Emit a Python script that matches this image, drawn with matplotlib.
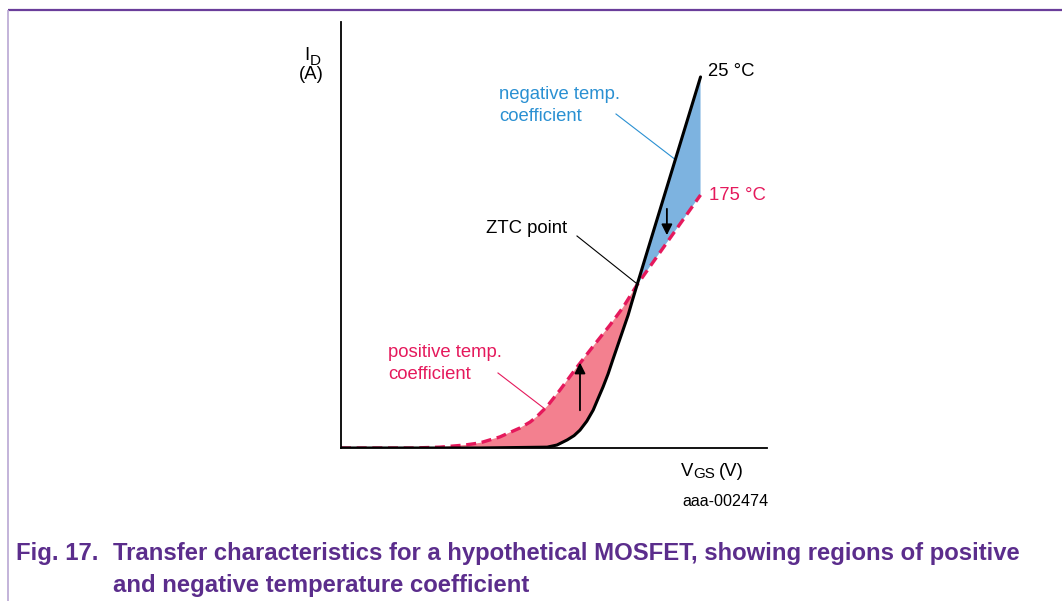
import matplotlib.pyplot as plt
import numpy as np

plt.rcParams['font.family'] = ['Liberation Sans', 'DejaVu Sans']

# transfer curves (VGS in axis units 0..10, ID in axis units 0..10)
vgs_25 = [0.0, 3.26, 4.84, 5.07, 5.31, 5.47, 5.61, 5.77, 5.92, 6.03, 6.15, 6.27,
          6.38, 6.50, 6.62, 6.74, 6.83, 6.95, 8.44]
id_25 = [0.0, 0.0, 0.02, 0.07, 0.19, 0.29, 0.42, 0.63, 0.89, 1.15, 1.43, 1.74,
         2.07, 2.42, 2.77, 3.12, 3.43, 3.83, 8.71]

vgs_175 = [0.0, 1.69, 2.32, 2.91, 3.26, 3.73, 4.20, 4.44, 4.60, 4.84, 5.14, 5.54,
           5.92, 6.31, 6.62, 6.95, 8.44]
id_175 = [0.0, 0.0, 0.02, 0.07, 0.12, 0.26, 0.47, 0.61, 0.74, 0.98, 1.36, 1.90,
          2.39, 2.88, 3.30, 3.83, 5.94]

ztc_vgs = 6.95
arrow_up = (5.61, 0.82, 2.07)    # x, y from, y to
arrow_down = (7.65, 5.68, 4.93)

crimson = '#e5195c'
pink = '#f3808f'
blue_fill = '#7db3e0'
blue_text = '#2a90d2'
purple = '#5b2d8c'

fig = plt.figure(figsize=(10.62, 6.01), dpi=100)

# frame + caption layer in pixel coordinates
bg = fig.add_axes([0, 0, 1, 1])
bg.set_xlim(0, 1062)
bg.set_ylim(601, 0)
bg.axis('off')
bg.plot([8, 1062], [10, 10], color='#6a3d9a', lw=1.6, solid_capstyle='butt')
bg.plot([8, 8], [10, 601], color='#b9a7d3', lw=1.2, solid_capstyle='butt')

ax = fig.add_axes([341 / 1062, (601 - 448) / 601, 426 / 1062, 426 / 601])
ax.set_xlim(0, 10)
ax.set_ylim(0, 10)
ax.patch.set_alpha(0)
for s in ['top', 'right']:
    ax.spines[s].set_visible(False)
for s in ['left', 'bottom']:
    ax.spines[s].set_linewidth(1.3)
ax.set_xticks([])
ax.set_yticks([])

n = vgs_25.index(ztc_vgs)
m = vgs_175.index(ztc_vgs)
# positive temp. coefficient region
ax.fill(vgs_25[:n + 1] + vgs_175[:m + 1][::-1], id_25[:n + 1] + id_175[:m + 1][::-1],
        color=pink, lw=0)
# negative temp. coefficient region
ax.fill(vgs_25[n:] + vgs_175[m:][::-1], id_25[n:] + id_175[m:][::-1],
        color=blue_fill, lw=0)

ax.plot(vgs_175, id_175, color=crimson, lw=2.4, dashes=(3.0, 1.7))
ax.plot(vgs_25, id_25, color='black', lw=2.2, solid_capstyle='round',
        solid_joinstyle='round')

ax.annotate('', xy=(arrow_up[0], arrow_up[2]), xytext=(arrow_up[0], arrow_up[1]),
            arrowprops=dict(arrowstyle='-|>', color='black', lw=1.3, mutation_scale=16))
ax.annotate('', xy=(arrow_down[0], arrow_down[2]), xytext=(arrow_down[0], arrow_down[1]),
            arrowprops=dict(arrowstyle='-|>', color='black', lw=1.3, mutation_scale=16))

# leader lines
bg.plot([577, 636], [236, 283], color='black', lw=0.8)
bg.plot([616, 685], [114, 167], color=blue_text, lw=0.8)
bg.plot([498, 558], [373, 419], color=crimson, lw=0.8)

fs = 13.3
bg.text(708, 76, '25 °C', fontsize=fs, color='black', va='baseline')
bg.text(709, 200, '175 °C', fontsize=fs, color=crimson, va='baseline')
bg.text(499, 99, 'negative temp.', fontsize=fs, color=blue_text, va='baseline')
bg.text(499, 121, 'coefficient', fontsize=fs, color=blue_text, va='baseline')
bg.text(486, 233, 'ZTC point', fontsize=fs, color='black', va='baseline')
bg.text(388, 357, 'positive temp.', fontsize=fs, color=crimson, va='baseline')
bg.text(388, 379, 'coefficient', fontsize=fs, color=crimson, va='baseline')

bg.text(304, 60, 'I', fontsize=fs, color='black', va='baseline')
bg.text(310, 65, 'D', fontsize=11, color='black', va='baseline')
bg.text(299, 79, '(A)', fontsize=fs, color='black', va='baseline')
bg.text(681, 476, 'V', fontsize=fs, color='black', va='baseline')
bg.text(693, 478, 'GS', fontsize=11, color='black', va='baseline')
bg.text(719, 476, '(V)', fontsize=fs, color='black', va='baseline')
bg.text(682, 506, 'aaa-002474', fontsize=11.6, color='black', va='baseline')

cap = dict(fontsize=17.2, fontweight='bold', color=purple, va='baseline')
bg.text(16, 560, 'Fig. 17.', **cap)
bg.text(113, 560, 'Transfer characteristics for a hypothetical MOSFET, showing regions of positive', **cap)
bg.text(113, 592, 'and negative temperature coefficient', **cap)

fig.savefig('out.png', dpi=100)
